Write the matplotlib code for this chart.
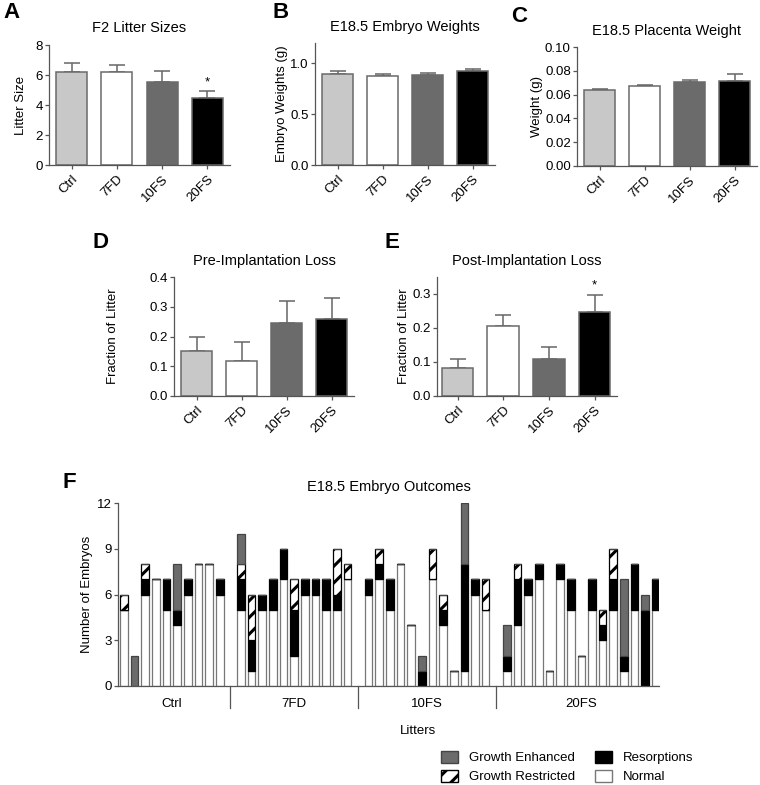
"""Embryo outcome figure: litter sizes, weights, implantation loss and per-litter outcomes."""
import matplotlib

matplotlib.use("Agg")

import matplotlib.pyplot as plt
import numpy as np
from matplotlib.patches import Patch
from matplotlib.transforms import blended_transform_factory

plt.rcParams["font.family"] = ["Liberation Sans", "DejaVu Sans"]
plt.rcParams["hatch.linewidth"] = 2.2

W, H = 760, 785

GROUPS = ["Ctrl", "7FD", "10FS", "20FS"]
GROUP_COLORS = ["#c8c8c8", "#ffffff", "#6b6b6b", "#000000"]
EDGE = "#6a6a6a"

# panel A-E: means and upper error-bar ends
litter_size = [6.2, 6.2, 5.55, 4.5]
litter_size_top = [6.8, 6.65, 6.3, 4.95]
embryo_wt = [0.895, 0.88, 0.885, 0.92]
embryo_wt_top = [0.92, 0.90, 0.905, 0.945]
placenta_wt = [0.064, 0.067, 0.071, 0.0715]
placenta_wt_top = [0.065, 0.068, 0.0725, 0.077]
pre_loss = [0.15, 0.116, 0.244, 0.26]
pre_loss_top = [0.198, 0.18, 0.32, 0.33]
post_loss = [0.081, 0.205, 0.11, 0.246]
post_loss_top = [0.11, 0.238, 0.144, 0.298]

# panel F: per-litter counts, by group
litters_per_group = [10, 11, 12, 15]
normal = [5, 0, 6, 7, 5, 4, 6, 8, 8, 6,
          5, 1, 5, 5, 7, 2, 6, 6, 5, 5, 7,
          6, 7, 5, 8, 4, 0, 7, 4, 1, 1, 6, 5,
          1, 4, 6, 7, 1, 7, 5, 2, 5, 3, 5, 1, 5, 0, 5]
resorptions = [0, 0, 1, 0, 2, 1, 1, 0, 0, 1,
               2, 2, 1, 2, 2, 3, 1, 1, 2, 1, 0,
               1, 1, 2, 0, 0, 1, 0, 1, 0, 7, 1, 0,
               1, 3, 1, 1, 0, 1, 2, 0, 2, 1, 2, 1, 3, 5, 2]
restricted = [1, 0, 1, 0, 0, 0, 0, 0, 0, 0,
              1, 3, 0, 0, 0, 2, 0, 0, 0, 3, 1,
              0, 1, 0, 0, 0, 0, 2, 1, 0, 0, 0, 2,
              0, 1, 0, 0, 0, 0, 0, 0, 0, 1, 2, 0, 0, 0, 0]
enhanced = [0, 2, 0, 0, 0, 3, 0, 0, 0, 0,
            2, 0, 0, 0, 0, 0, 0, 0, 0, 0, 0,
            0, 0, 0, 0, 0, 1, 0, 0, 0, 4, 0, 0,
            2, 0, 0, 0, 0, 0, 0, 0, 0, 0, 0, 5, 0, 1, 0]


def px_axes(fig, x0, y0, x1, y1):
    return fig.add_axes([x0 / W, 1 - y1 / H, (x1 - x0) / W, (y1 - y0) / H])


def style_axes(ax):
    for side in ("top", "right"):
        ax.spines[side].set_visible(False)
    for side in ("left", "bottom"):
        ax.spines[side].set_color("#555555")
        ax.spines[side].set_linewidth(0.9)
    ax.tick_params(colors="#555555", labelcolor="black", labelsize=9.5, width=0.9,
                   length=3, pad=1.5)


def bar_panel(ax, means, tops, title, ylabel, ylim, yticks, fmt, xlim=(-0.5, 3.5),
              stars=(), labelpad=1.5):
    x = np.arange(len(GROUPS))
    means = np.array(means)
    err = np.array(tops) - means
    ax.errorbar(x, means, yerr=[np.zeros_like(err), err], fmt="none",
                ecolor="#666666", elinewidth=1.1, capsize=5.5, capthick=1.1, zorder=1)
    ax.bar(x, means, width=0.69, color=GROUP_COLORS, edgecolor=EDGE, linewidth=1.1, zorder=2)
    for i in stars:
        ax.annotate("*", (x[i], tops[i]), xytext=(0, 2), textcoords="offset points",
                    ha="center", va="bottom", fontsize=9.5)
    ax.set_xlim(*xlim)
    ax.set_ylim(*ylim)
    ax.set_yticks(yticks)
    ax.set_yticklabels([fmt.format(v) for v in yticks])
    ax.set_xticks(x)
    ax.set_xticklabels(GROUPS, rotation=45, ha="right", rotation_mode="anchor")
    ax.set_title(title, fontsize=10.5, pad=9)
    ax.set_ylabel(ylabel, fontsize=9.5, labelpad=labelpad)
    style_axes(ax)
    ax.tick_params(axis="x", pad=3)


fig = plt.figure(figsize=(W / 100, H / 100), dpi=100)

ax_a = px_axes(fig, 49, 45, 230, 165)
bar_panel(ax_a, litter_size, litter_size_top, "F2 Litter Sizes", "Litter Size",
          (0, 8), [0, 2, 4, 6, 8], "{:.0f}", stars=(3,), labelpad=6)

ax_b = px_axes(fig, 315, 43, 495, 165)
bar_panel(ax_b, embryo_wt, embryo_wt_top, "E18.5 Embryo Weights", "Embryo Weights (g)",
          (0, 1.2), [0.0, 0.5, 1.0], "{:.1f}")

ax_c = px_axes(fig, 577, 47, 757, 166)
bar_panel(ax_c, placenta_wt, placenta_wt_top, "E18.5 Placenta Weight", "Weight (g)",
          (0, 0.1), [0.0, 0.02, 0.04, 0.06, 0.08, 0.10], "{:.2f}")

ax_d = px_axes(fig, 174, 277, 354, 396)
bar_panel(ax_d, pre_loss, pre_loss_top, "Pre-Implantation Loss", "Fraction of Litter",
          (0, 0.4), [0.0, 0.1, 0.2, 0.3, 0.4], "{:.1f}", labelpad=22)

ax_e = px_axes(fig, 437, 277, 617, 396)
bar_panel(ax_e, post_loss, post_loss_top, "Post-Implantation Loss", "Fraction of Litter",
          (0, 0.35), [0.0, 0.1, 0.2, 0.3], "{:.1f}", xlim=(-0.45, 3.49), stars=(3,))

# panel F: stacked per-litter outcomes, one empty slot between groups
ax_f = px_axes(fig, 118, 503, 659, 686)
pos = []
start = 0
for n in litters_per_group:
    pos.extend(range(start, start + n))
    start += n + 1
pos = np.array(pos)
n_arr = np.array(normal)
r_arr = np.array(resorptions)
gr_arr = np.array(restricted)
ge_arr = np.array(enhanced)
bw = 0.72
ax_f.bar(pos, n_arr, bw, color="white", edgecolor="#777777", linewidth=0.9)
ax_f.bar(pos, r_arr, bw, bottom=n_arr, color="black", edgecolor="black", linewidth=0.9)
ax_f.bar(pos, gr_arr, bw, bottom=n_arr + r_arr, color="white", edgecolor="black",
         hatch="//", linewidth=0.9)
ax_f.bar(pos, ge_arr, bw, bottom=n_arr + r_arr + gr_arr, color="#6b6b6b",
         edgecolor="#444444", linewidth=0.9)
ax_f.set_xlim(-0.56, 50.3)
ax_f.set_ylim(0, 12)
ax_f.set_yticks([0, 3, 6, 9, 12])
ax_f.set_xticks([])
ax_f.set_title("E18.5 Embryo Outcomes", fontsize=10.5, pad=9)
ax_f.set_ylabel("Number of Embryos", fontsize=9.5, labelpad=3)
style_axes(ax_f)

trans = blended_transform_factory(ax_f.transData, ax_f.transAxes)
start = 0
for k, n in enumerate(litters_per_group):
    center = start + (n - 1) / 2
    ax_f.text(center, -0.1, GROUPS[k], transform=trans, ha="center", va="center", fontsize=9.5)
    if k > 0:
        ax_f.plot([start - 1, start - 1], [0, -0.12], transform=trans, color="#555555",
                  linewidth=0.9, clip_on=False)
    start += n + 1
fig.text(418 / W, 1 - 731 / H, "Litters", ha="center", va="center", fontsize=9.5)

handles = [
    Patch(facecolor="#6b6b6b", edgecolor="#444444", label="Growth Enhanced"),
    Patch(facecolor="white", edgecolor="black", hatch="//", label="Growth Restricted"),
    Patch(facecolor="black", edgecolor="black", label="Resorptions"),
    Patch(facecolor="white", edgecolor="#777777", label="Normal"),
]
fig.legend(handles=handles, ncol=2, loc="center", bbox_to_anchor=(567 / W, 1 - 767 / H),
           frameon=False, fontsize=9.5, handlelength=1.3, handleheight=1.1,
           columnspacing=1.5, labelspacing=0.4)

for letter, xp, yp in [("A", 3, 13), ("B", 272, 13), ("C", 511, 16), ("D", 92, 242),
                       ("E", 385, 242), ("F", 62, 482)]:
    fig.text(xp / W, 1 - yp / H, letter, fontsize=16, fontweight="bold", ha="left", va="center")

fig.savefig("out.png", dpi=100)
